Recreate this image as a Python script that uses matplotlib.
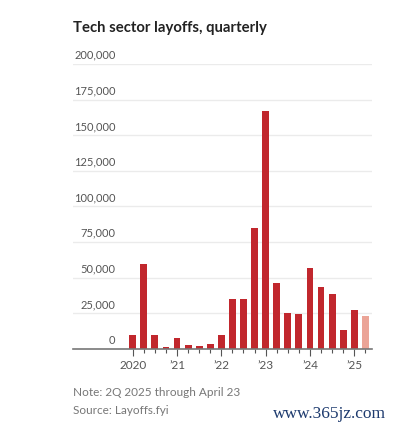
import matplotlib.pyplot as plt
import numpy as np

# quarterly tech layoffs, 1Q 2020 .. 2Q 2025
quarters = ['1Q20', '2Q20', '3Q20', '4Q20',
            '1Q21', '2Q21', '3Q21', '4Q21',
            '1Q22', '2Q22', '3Q22', '4Q22',
            '1Q23', '2Q23', '3Q23', '4Q23',
            '1Q24', '2Q24', '3Q24', '4Q24',
            '1Q25', '2Q25']
layoffs = [9600, 59500, 9600, 1500,
           7700, 2800, 2100, 3500,
           9900, 35000, 35000, 84600,
           167000, 46400, 25300, 24600,
           56700, 43300, 38600, 13300,
           27400, 23000]
partial = [False] * 21 + [True]   # 2Q 2025 only through April 23

year_pos = [0, 4, 8, 12, 16, 20]
year_labels = ['2020', '\u201921', '\u201922', '\u201923', '\u201924', '\u201925']
y_ticks = [0, 25000, 50000, 75000, 100000, 125000, 150000, 175000, 200000]

red = '#c1272d'
pink = '#eba497'

plt.rcParams['font.family'] = ['Lato', 'DejaVu Sans']

fig = plt.figure(figsize=(3.97, 4.30), dpi=100)
ax = fig.add_axes([73 / 397, 1 - 348.7 / 430, 299 / 397, (348.7 - 64) / 430])

x = np.arange(len(layoffs))
colors = [pink if p else red for p in partial]
ax.bar(x, layoffs, width=0.62, color=colors, zorder=2)

ax.set_ylim(0, 200000)
ax.set_xlim(-5.39, 21.6)

# gridlines + labels sitting on top of them
for t in y_ticks[1:]:
    ax.axhline(t, color='#ebebeb', lw=1, zorder=0)
for t in y_ticks:
    ax.text(0.142, t + 2200, f'{t:,}', transform=ax.get_yaxis_transform(),
            ha='right', va='bottom', fontsize=8, color='#555555')

ax.set_yticks([])
for s in ['top', 'right', 'left']:
    ax.spines[s].set_visible(False)
ax.spines['bottom'].set_color('#777777')
ax.spines['bottom'].set_linewidth(1.2)

ax.set_xticks(year_pos)
ax.set_xticklabels(year_labels, fontsize=8.5, color='#555555')
ax.set_xticks(x, minor=True)
ax.tick_params(axis='x', which='major', length=5, width=0.8, color='#555555', pad=3)
ax.tick_params(axis='x', which='minor', length=3, width=0.8, color='#555555')

fig.text(73 / 397, 1 - 28 / 430, 'Tech sector layoffs, quarterly',
         fontsize=10.7, fontweight='bold', color='#222222', va='center')
fig.text(73 / 397, 1 - 392 / 430, 'Note: 2Q 2025 through April 23',
         fontsize=8.5, color='#777777', va='center')
fig.text(73 / 397, 1 - 410 / 430, 'Source: Layoffs.fyi',
         fontsize=8.5, color='#777777', va='center')
fig.text(273 / 397, 1 - 414 / 430, 'www.365jz.com', fontsize=12.5,
         family='Liberation Serif', color='#1d3a6e', va='center')

fig.savefig('out.png', dpi=100)
